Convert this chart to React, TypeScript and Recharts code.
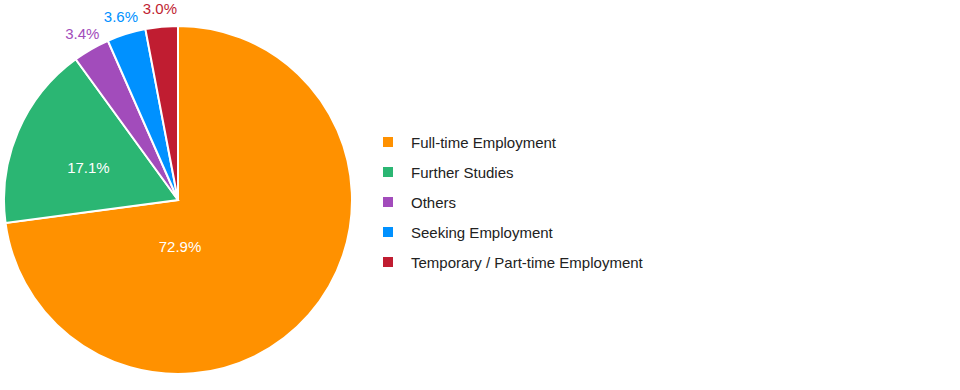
import React from "react";
import { PieChart, Pie, Cell, Legend } from "recharts";

const categories = [
  "Full-time Employment",
  "Further Studies",
  "Others",
  "Seeking Employment",
  "Temporary / Part-time Employment",
];
const values = [72.9, 17.1, 3.4, 3.6, 3.0];
const colors = ["#FF9100", "#2BB673", "#A24CBB", "#0091FF", "#C01D31"];

const data = categories.map((name, i) => ({ name, value: values[i] }));

const RAD = Math.PI / 180;
const FONT = "'Liberation Sans', Arial, sans-serif";

const renderLabel = (props: any) => {
  const { cx, cy, outerRadius, midAngle, percent, index } = props;
  const label = values[index].toFixed(1) + "%";
  let x: number;
  let y: number;
  let fill = "#ffffff";
  if (percent > 0.5) {
    x = cx + 2;
    y = cy + outerRadius * 0.265;
  } else if (percent > 0.1) {
    const r = outerRadius * 0.56;
    x = cx + r * Math.cos(-midAngle * RAD);
    y = cy + r * Math.sin(-midAngle * RAD) + 6;
  } else {
    const r = outerRadius + 18;
    x = cx + r * Math.cos(-midAngle * RAD);
    y = cy + r * Math.sin(-midAngle * RAD);
    fill = colors[index];
  }
  return (
    <text
      x={x}
      y={y}
      fill={fill}
      textAnchor="middle"
      dominantBaseline="central"
      fontSize={15}
      fontFamily={FONT}
    >
      {label}
    </text>
  );
};

const LegendContent = () => (
  <div style={{ fontFamily: FONT, fontSize: 15, color: "#222" }}>
    {categories.map((c, i) => (
      <div
        key={c}
        style={{ display: "flex", alignItems: "center", height: 30 }}
      >
        <span
          style={{
            display: "inline-block",
            width: 10,
            height: 10,
            background: colors[i],
            marginRight: 18,
          }}
        />
        <span>{c}</span>
      </div>
    ))}
  </div>
);

export default function App() {
  return (
    <div style={{ position: "absolute", left: 0, top: 0, width: 960, height: 390, background: "#fff" }}>
      <PieChart width={960} height={390} margin={{ top: 0, right: 0, bottom: 0, left: 0 }}>
        <Pie
          data={data}
          dataKey="value"
          nameKey="name"
          cx={178}
          cy={200}
          outerRadius={174}
          startAngle={90}
          endAngle={-270}
          stroke="#ffffff"
          strokeWidth={2}
          label={renderLabel}
          labelLine={false}
          isAnimationActive={false}
        >
          {data.map((d, i) => (
            <Cell key={d.name} fill={colors[i]} />
          ))}
        </Pie>
        <Legend
          content={<LegendContent />}
          wrapperStyle={{ position: "absolute", left: 383, top: 127, width: 400 }}
        />
      </PieChart>
    </div>
  );
}
